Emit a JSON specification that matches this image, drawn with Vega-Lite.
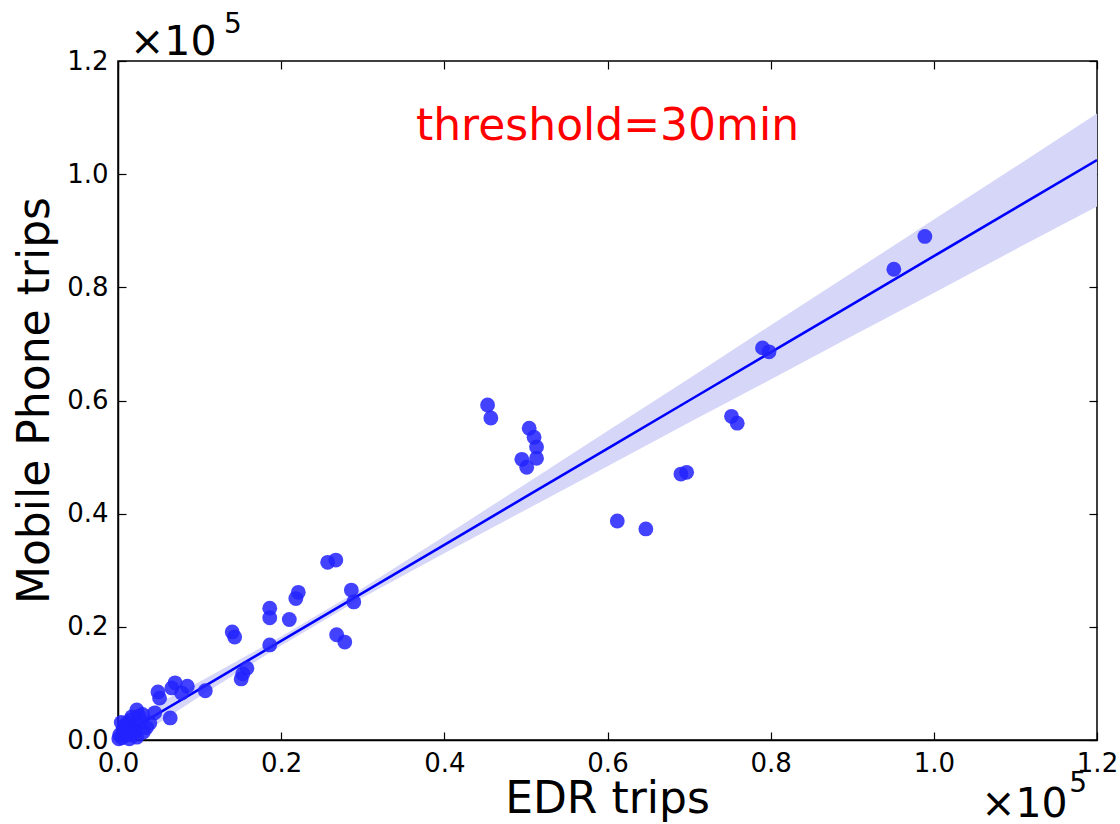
{
  "$schema": "https://vega.github.io/schema/vega-lite/v6.json",
  "autosize": {"type": "none"},
  "width": 979,
  "height": 679,
  "padding": {"left": 118, "top": 61, "right": 23, "bottom": 84},
  "background": "white",
  "config": {
    "view": {"stroke": "black", "strokeWidth": 1.5},
    "font": "DejaVu Sans",
    "axis": {
      "grid": false,
      "domainColor": "black",
      "domainWidth": 1.5,
      "tickColor": "black",
      "tickWidth": 1.2,
      "tickSize": -8,
      "labelColor": "black",
      "labelFont": "DejaVu Sans",
      "labelFontSize": 26,
      "titleFont": "DejaVu Sans",
      "titleFontSize": 44,
      "titleFontWeight": "normal",
      "titleColor": "black"
    }
  },
  "datasets": {
    "pts": [
      {"edr": 0.453, "mob": 0.592}, {"edr": 0.457, "mob": 0.569}, {"edr": 0.504, "mob": 0.551},
      {"edr": 0.510, "mob": 0.535}, {"edr": 0.513, "mob": 0.518}, {"edr": 0.513, "mob": 0.498},
      {"edr": 0.495, "mob": 0.496}, {"edr": 0.501, "mob": 0.482}, {"edr": 0.752, "mob": 0.572},
      {"edr": 0.759, "mob": 0.560}, {"edr": 0.690, "mob": 0.470}, {"edr": 0.697, "mob": 0.473},
      {"edr": 0.612, "mob": 0.387}, {"edr": 0.647, "mob": 0.373}, {"edr": 0.989, "mob": 0.890},
      {"edr": 0.951, "mob": 0.832}, {"edr": 0.790, "mob": 0.693}, {"edr": 0.798, "mob": 0.686},
      {"edr": 0.257, "mob": 0.314}, {"edr": 0.267, "mob": 0.318}, {"edr": 0.286, "mob": 0.265},
      {"edr": 0.289, "mob": 0.244}, {"edr": 0.268, "mob": 0.186}, {"edr": 0.278, "mob": 0.173},
      {"edr": 0.186, "mob": 0.233}, {"edr": 0.186, "mob": 0.216}, {"edr": 0.210, "mob": 0.213},
      {"edr": 0.221, "mob": 0.261}, {"edr": 0.218, "mob": 0.250}, {"edr": 0.140, "mob": 0.191},
      {"edr": 0.143, "mob": 0.182}, {"edr": 0.186, "mob": 0.168}, {"edr": 0.158, "mob": 0.127},
      {"edr": 0.153, "mob": 0.117}, {"edr": 0.151, "mob": 0.108}, {"edr": 0.107, "mob": 0.087},
      {"edr": 0.085, "mob": 0.095}, {"edr": 0.070, "mob": 0.101}, {"edr": 0.066, "mob": 0.092},
      {"edr": 0.078, "mob": 0.083}, {"edr": 0.049, "mob": 0.085}, {"edr": 0.051, "mob": 0.074},
      {"edr": 0.064, "mob": 0.039}, {"edr": 0.045, "mob": 0.048}, {"edr": 0.039, "mob": 0.030},
      {"edr": 0.023, "mob": 0.053}, {"edr": 0.017, "mob": 0.041}, {"edr": 0.011, "mob": 0.030},
      {"edr": 0.006, "mob": 0.018}, {"edr": 0.018, "mob": 0.021}, {"edr": 0.027, "mob": 0.030},
      {"edr": 0.031, "mob": 0.014}, {"edr": 0.002, "mob": 0.009}, {"edr": 0.012, "mob": 0.009},
      {"edr": 0.023, "mob": 0.005}, {"edr": 0.005, "mob": 0.004}, {"edr": 0.008, "mob": 0.025},
      {"edr": 0.015, "mob": 0.035}, {"edr": 0.030, "mob": 0.045}, {"edr": 0.020, "mob": 0.012},
      {"edr": 0.001, "mob": 0.002}, {"edr": 0.035, "mob": 0.022}, {"edr": 0.010, "mob": 0.016},
      {"edr": 0.004, "mob": 0.031}, {"edr": 0.026, "mob": 0.042}, {"edr": 0.014, "mob": 0.002}
    ],
    "band": [
      {"x": 0.0, "fit": 0.005, "lo": -0.017, "hi": 0.027},
      {"x": 0.1, "fit": 0.090, "lo": 0.077, "hi": 0.103},
      {"x": 0.2, "fit": 0.175, "lo": 0.167, "hi": 0.183},
      {"x": 0.3, "fit": 0.260, "lo": 0.252, "hi": 0.268},
      {"x": 0.4, "fit": 0.345, "lo": 0.330, "hi": 0.360},
      {"x": 0.5, "fit": 0.430, "lo": 0.407, "hi": 0.453},
      {"x": 0.6, "fit": 0.515, "lo": 0.484, "hi": 0.546},
      {"x": 0.7, "fit": 0.600, "lo": 0.561, "hi": 0.639},
      {"x": 0.8, "fit": 0.685, "lo": 0.637, "hi": 0.733},
      {"x": 0.9, "fit": 0.770, "lo": 0.714, "hi": 0.826},
      {"x": 1.0, "fit": 0.855, "lo": 0.790, "hi": 0.920},
      {"x": 1.1, "fit": 0.940, "lo": 0.867, "hi": 1.013},
      {"x": 1.2, "fit": 1.025, "lo": 0.943, "hi": 1.107}
    ],
    "big": [
      {"x": 0.0147, "y": 1.210, "t": "×10"},
      {"x": 1.058, "y": -0.136, "t": "×10"}
    ],
    "sup": [
      {"x": 0.130, "y": 1.249, "t": "5"},
      {"x": 1.166, "y": -0.092, "t": "5"}
    ],
    "label": [
      {"x": 0.600, "y": 1.083, "t": "threshold=30min"}
    ]
  },
  "resolve": {"axis": {"x": "independent", "y": "independent"}},
  "layer": [
    {
      "data": {"name": "band"},
      "mark": {"type": "area", "color": "#d6d6f8", "clip": true},
      "encoding": {
        "x": {"field": "x", "type": "quantitative",
              "scale": {"domain": [0, 1.2], "nice": false, "zero": false},
              "axis": {"title": "EDR trips", "values": [0, 0.2, 0.4, 0.6, 0.8, 1.0, 1.2], "format": ".1f",
                       "labelPadding": 18, "labelFlush": false, "titleX": 489, "titleY": 72, "titleBaseline": "alphabetic", "titleAnchor": null}},
        "y": {"field": "lo", "type": "quantitative",
              "scale": {"domain": [0, 1.2], "nice": false, "zero": false},
              "axis": {"title": "Mobile Phone trips", "values": [0, 0.2, 0.4, 0.6, 0.8, 1.0, 1.2], "format": ".1f",
                       "labelPadding": 18, "labelFlush": false, "titleX": -83, "titleY": 339, "titleBaseline": "middle", "titleAngle": -90}},
        "y2": {"field": "hi"}
      }
    },
    {
      "data": {"name": "band"},
      "mark": {"type": "line", "color": "#0000ff", "strokeWidth": 2.6, "clip": true},
      "encoding": {
        "x": {"field": "x", "type": "quantitative",
              "axis": {"orient": "top", "labels": false, "title": null, "domain": false, "values": [0, 0.2, 0.4, 0.6, 0.8, 1.0, 1.2]}},
        "y": {"field": "fit", "type": "quantitative",
              "axis": {"orient": "right", "labels": false, "title": null, "domain": false, "values": [0, 0.2, 0.4, 0.6, 0.8, 1.0, 1.2]}}
      }
    },
    {
      "data": {"name": "pts"},
      "mark": {"type": "circle", "color": "#2222ff", "opacity": 0.85, "size": 220, "clip": false},
      "encoding": {
        "x": {"field": "edr", "type": "quantitative", "axis": null},
        "y": {"field": "mob", "type": "quantitative", "axis": null}
      }
    },
    {
      "data": {"name": "label"},
      "mark": {"type": "text", "clip": false, "color": "#ff0000", "fontSize": 44, "align": "center", "baseline": "middle", "font": "DejaVu Sans"},
      "encoding": {
        "x": {"field": "x", "type": "quantitative", "axis": null},
        "y": {"field": "y", "type": "quantitative", "axis": null},
        "text": {"field": "t"}
      }
    },
    {
      "data": {"name": "big"},
      "mark": {"type": "text", "clip": false, "color": "black", "fontSize": 41, "align": "left", "baseline": "alphabetic", "font": "DejaVu Sans"},
      "encoding": {
        "x": {"field": "x", "type": "quantitative", "axis": null},
        "y": {"field": "y", "type": "quantitative", "axis": null},
        "text": {"field": "t"}
      }
    },
    {
      "data": {"name": "sup"},
      "mark": {"type": "text", "clip": false, "color": "black", "fontSize": 28, "align": "left", "baseline": "alphabetic", "font": "DejaVu Sans"},
      "encoding": {
        "x": {"field": "x", "type": "quantitative", "axis": null},
        "y": {"field": "y", "type": "quantitative", "axis": null},
        "text": {"field": "t"}
      }
    }
  ]
}
